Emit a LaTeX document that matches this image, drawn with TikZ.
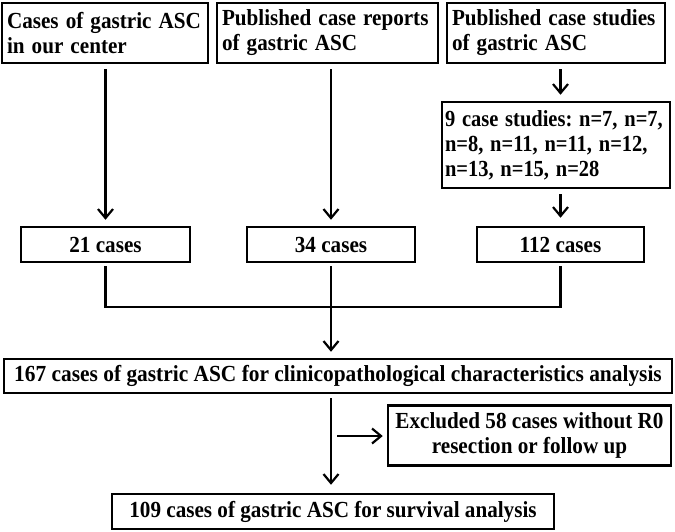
\documentclass[tikz,border=0pt]{standalone}
\usepackage{fontspec}
\usepackage{graphicx}
\setmainfont{Liberation Serif}
\usetikzlibrary{arrows.meta}
\newcommand{\sq}[1]{\scalebox{0.92}[1]{#1}}
\newcommand{\sqn}[1]{\scalebox{0.89}[1]{#1}}
\begin{document}
\begin{tikzpicture}[x=1pt,y=-1pt,
  box/.style={draw,line width=2.5pt,rectangle,inner xsep=5pt,inner ysep=0pt,
    font=\frenchspacing\bfseries\fontsize{23}{25}\selectfont},
  lbox/.style={box,align=left},
  cbox/.style={box,align=center},
  conn/.style={line width=2.2pt},
  arr/.style={conn,-{Straight Barb[length=9pt,width=15pt]}}]
\useasboundingbox (0,0) rectangle (675,531);

\node[lbox,minimum width=204pt,minimum height=60pt,text width=196pt] (b1) at (105,33)
  {\sq{Cases of gastric ASC}\\\sq{in our center}};
\node[lbox,minimum width=219pt,minimum height=60pt,text width=211pt] (b2) at (327.5,33)
  {\sq{Published case reports}\\\sq{of gastric ASC}};
\node[lbox,minimum width=216pt,minimum height=60pt,text width=208pt] (b3) at (556,33)
  {\sq{Published case studies}\\\sq{of gastric ASC}};
\node[lbox,inner xsep=3pt,minimum width=228pt,minimum height=86pt,text width=222pt] (nine) at (556,145)
  {\sqn{9 case studies: n=7, n=7,}\\\sqn{n=8, n=11, n=11, n=12,}\\\sqn{n=13, n=15, n=28}};

\node[cbox,minimum width=169pt,minimum height=35pt] (m1) at (105.5,244.5) {\sq{21 cases}};
\node[cbox,minimum width=168pt,minimum height=35pt] (m2) at (331,244.5) {\sq{34 cases}};
\node[cbox,minimum width=167pt,minimum height=35pt] (m3) at (560.5,244.5) {\sq{112 cases}};

\node[cbox,minimum width=668pt,minimum height=34pt] (main) at (338,376)
  {\scalebox{0.93}[1]{167 cases of gastric ASC for clinicopathological characteristics analysis}};
\node[cbox,minimum width=283pt,minimum height=60pt] (excl) at (529.5,435.5)
  {\sq{Excluded 58 cases without R0}\\\sq{resection or follow up}};
\node[cbox,minimum width=442pt,minimum height=35pt] (final) at (333,511.5)
  {\sq{109 cases of gastric ASC for survival analysis}};

\coordinate (j) at (331,307);
\coordinate (h) at (337,436);

\draw[arr,shorten <=5pt,shorten >=6pt] (m1.north |- b1.south) -- (m1.north);
\draw[arr,shorten <=5pt,shorten >=6pt] (m2.north |- b2.south) -- (m2.north);
\draw[arr,shorten <=5pt,shorten >=6pt] (m3.north |- b3.south) -- (m3.north |- nine.north);
\draw[arr,shorten <=5pt,shorten >=8pt] (m3.north |- nine.south) -- (m3.north);

\draw[conn,shorten <=3pt,shorten >=3pt] (m1.south) |- (j) -| (m3.south);
\draw[arr,shorten <=3pt,shorten >=6pt] (m2.south) -- (m2.south |- main.north);
\draw[arr,shorten <=4pt,shorten >=8pt] (m2.south |- main.south) -- (m2.south |- final.north);
\draw[arr,shorten >=4pt] (h) -- (h -| excl.west);
\end{tikzpicture}
\end{document}
